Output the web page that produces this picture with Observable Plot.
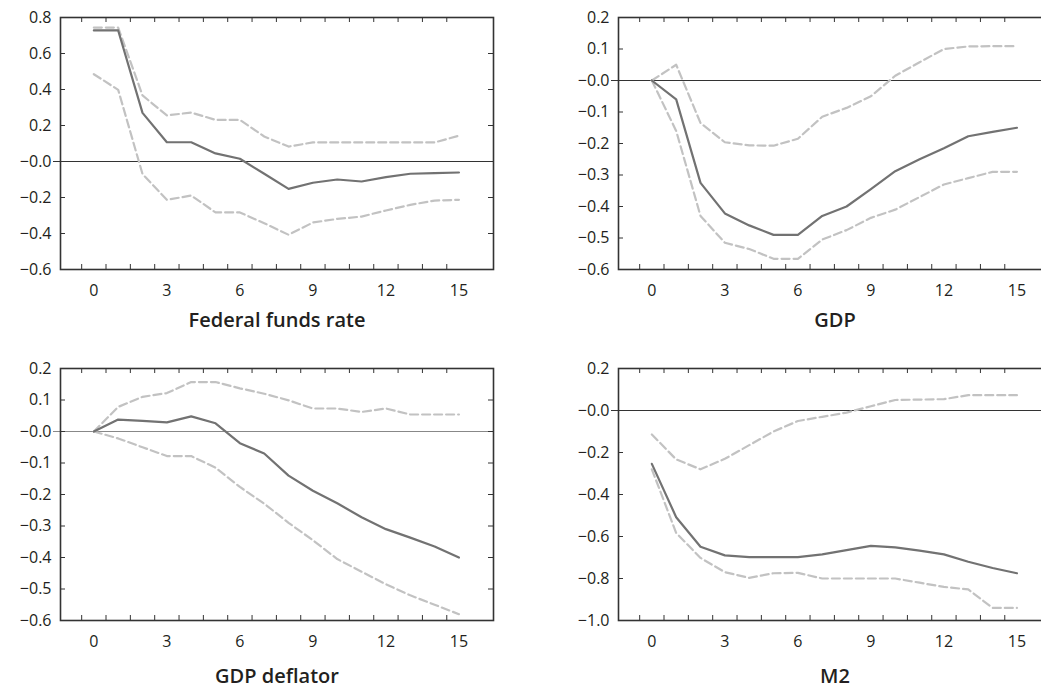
<!DOCTYPE html>
<html><head><meta charset="utf-8">
<script src="https://cdn.jsdelivr.net/npm/d3@7"></script>
<script src="https://cdn.jsdelivr.net/npm/@observablehq/plot@0.6"></script>
<style>
html,body{margin:0;padding:0;background:#fff;overflow:hidden;}
#wrap{position:relative;width:1041px;height:688px;overflow:hidden;background:#fff;}
.panel{position:absolute;}
</style></head><body><div id="wrap"></div>
<script>
// ---- data ----
const horizons = [0,1,2,3,4,5,6,7,8,9,10,11,12,13,14,15];
const xTickLabels = [0,3,6,9,12,15];

const ffrMid   = [0.728,0.728,0.27,0.107,0.107,0.045,0.015,-0.068,-0.152,-0.118,-0.10,-0.111,-0.087,-0.068,-0.065,-0.061];
const ffrUpper = [0.744,0.744,0.367,0.256,0.272,0.231,0.231,0.139,0.083,0.106,0.106,0.106,0.106,0.106,0.106,0.143];
const ffrLower = [0.485,0.398,-0.07,-0.213,-0.189,-0.283,-0.283,-0.343,-0.407,-0.339,-0.319,-0.306,-0.272,-0.241,-0.217,-0.213];
const ffrTicks = [-0.6,-0.4,-0.2,0,0.2,0.4,0.6,0.8];

const gdpMid   = [0,-0.06,-0.325,-0.422,-0.46,-0.49,-0.49,-0.43,-0.40,-0.345,-0.288,-0.25,-0.215,-0.177,-0.163,-0.15];
const gdpUpper = [0,0.05,-0.135,-0.196,-0.206,-0.207,-0.185,-0.115,-0.087,-0.05,0.015,0.058,0.10,0.108,0.109,0.109];
const gdpLower = [0,-0.16,-0.43,-0.515,-0.535,-0.566,-0.566,-0.505,-0.475,-0.436,-0.41,-0.37,-0.33,-0.31,-0.29,-0.29];
const gdpTicks = [-0.6,-0.5,-0.4,-0.3,-0.2,-0.1,0,0.1,0.2];

const defMid   = [0,0.038,0.034,0.029,0.048,0.026,-0.037,-0.07,-0.14,-0.188,-0.228,-0.272,-0.31,-0.337,-0.365,-0.40];
const defUpper = [0,0.078,0.11,0.122,0.157,0.157,0.137,0.12,0.099,0.073,0.073,0.062,0.073,0.054,0.054,0.054];
const defLower = [0,-0.022,-0.05,-0.078,-0.078,-0.115,-0.176,-0.229,-0.29,-0.345,-0.405,-0.445,-0.485,-0.52,-0.55,-0.58];
const defTicks = [-0.6,-0.5,-0.4,-0.3,-0.2,-0.1,0,0.1,0.2];

const m2Mid   = [-0.254,-0.508,-0.649,-0.69,-0.698,-0.698,-0.698,-0.685,-0.665,-0.645,-0.652,-0.667,-0.685,-0.72,-0.75,-0.775];
const m2Upper = [-0.114,-0.233,-0.28,-0.23,-0.165,-0.10,-0.05,-0.03,-0.01,0.02,0.05,0.052,0.054,0.073,0.073,0.073];
const m2Lower = [-0.28,-0.583,-0.702,-0.77,-0.797,-0.775,-0.773,-0.80,-0.80,-0.80,-0.80,-0.82,-0.84,-0.852,-0.94,-0.94];
const m2Ticks = [-1.0,-0.8,-0.6,-0.4,-0.2,0,0.2];

const titles = ["Federal funds rate", "GDP", "GDP deflator", "M2"];

// ---- layout ----
const FRAME_W = 433, FRAME_H = 252;
const ML = 60, MR = 10, MT = 10, MB = 75;
const XDOM = [-1.37, 16.42];
const tickFmt = d => d === 0 ? "\u22120.0" : (d < 0 ? "\u2212" : "") + Math.abs(d).toFixed(1);

function panel(cfg) {
  const {mid, upper, lower, ticks, title, left, top, titleDy, zeroColor} = cfg;
  const ydom = [ticks[0], ticks[ticks.length - 1]];
  const table = horizons.map((h, i) => ({h, mid: mid[i], upper: upper[i], lower: lower[i]}));
  const kx = (XDOM[1] - XDOM[0]) * 5 / FRAME_W;
  const ky = (ydom[1] - ydom[0]) * 5 / FRAME_H;
  const kz = (XDOM[1] - XDOM[0]) * 7 / FRAME_W;
  const xTickPos = horizons.map(h => h - 0.5);
  const chart = Plot.plot({
    width: ML + FRAME_W + MR,
    height: MT + FRAME_H + MB,
    marginLeft: ML, marginRight: MR, marginTop: MT, marginBottom: MB,
    x: {domain: XDOM, label: null},
    y: {domain: ydom, label: null},
    style: {fontFamily: "'Open Sans', sans-serif", fontSize: "16px", overflow: "visible", maxWidth: "none", background: "transparent", color: "#231f20"},
    marks: [
      Plot.ruleY([0], {x1: XDOM[0] - kz, x2: XDOM[1], stroke: zeroColor, strokeWidth: 1.2}),
      Plot.line(table, {x: "h", y: "upper", stroke: "#c2c2c2", strokeWidth: 2.2, strokeDasharray: "8,4"}),
      Plot.line(table, {x: "h", y: "lower", stroke: "#c2c2c2", strokeWidth: 2.2, strokeDasharray: "8,4"}),
      Plot.line(table, {x: "h", y: "mid", stroke: "#727272", strokeWidth: 2.2}),
      Plot.ruleY(ticks, {x1: XDOM[0], x2: XDOM[0] + kx, stroke: "#333", strokeWidth: 1}),
      Plot.ruleY(ticks, {x1: XDOM[1] - kx, x2: XDOM[1], stroke: "#333", strokeWidth: 1}),
      Plot.ruleX(xTickPos, {y1: ydom[0], y2: ydom[0] + ky, stroke: "#333", strokeWidth: 1}),
      Plot.ruleX(xTickPos, {y1: ydom[1] - ky, y2: ydom[1], stroke: "#333", strokeWidth: 1}),
      Plot.frame({stroke: "#333", strokeWidth: 1.6}),
      Plot.axisY(ticks, {anchor: "left", label: null, tickSize: 0, tickPadding: 9, tickFormat: tickFmt, fontSize: 16}),
      Plot.axisX(xTickLabels, {anchor: "bottom", label: null, tickSize: 0, tickPadding: 15, tickFormat: d => String(d), fontSize: 16}),
      Plot.text([title], {frameAnchor: "bottom", dy: titleDy, fontSize: 20, fontWeight: 600, fill: "#231f20"})
    ]
  });
  const div = document.createElement("div");
  div.className = "panel";
  div.style.left = (left - ML) + "px";
  div.style.top = (top - MT) + "px";
  div.appendChild(chart);
  document.getElementById("wrap").appendChild(div);
}

panel({mid: ffrMid, upper: ffrUpper, lower: ffrLower, ticks: ffrTicks, title: titles[0], left: 60, top: 17, titleDy: 57, zeroColor: "#333"});
panel({mid: gdpMid, upper: gdpUpper, lower: gdpLower, ticks: gdpTicks, title: titles[1], left: 618, top: 17, titleDy: 57, zeroColor: "#333"});
panel({mid: defMid, upper: defUpper, lower: defLower, ticks: defTicks, title: titles[2], left: 60, top: 368, titleDy: 62, zeroColor: "#888"});
panel({mid: m2Mid, upper: m2Upper, lower: m2Lower, ticks: m2Ticks, title: titles[3], left: 618, top: 368, titleDy: 62, zeroColor: "#333"});
</script>
</body></html>
